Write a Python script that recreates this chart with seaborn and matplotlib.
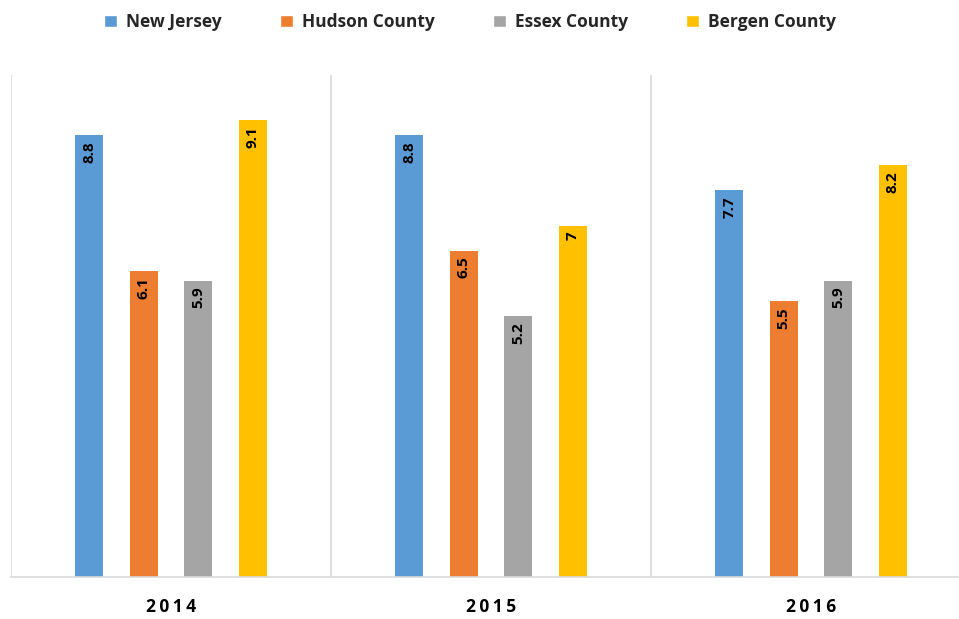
import matplotlib
matplotlib.use("Agg")
import matplotlib.pyplot as plt
import seaborn as sns
import pandas as pd

years = ["2014", "2015", "2016"]
series = ["New Jersey", "Hudson County", "Essex County", "Bergen County"]
new_jersey = [8.8, 8.8, 7.7]
hudson = [6.1, 6.5, 5.5]
essex = [5.9, 5.2, 5.9]
bergen = [9.1, 7.0, 8.2]
colors = ["#5B9BD5", "#ED7D31", "#A5A5A5", "#FFC000"]

rows = []
for name, vals in zip(series, [new_jersey, hudson, essex, bergen]):
    for y, v in zip(years, vals):
        rows.append({"Year": y, "Series": name, "Value": v})
df = pd.DataFrame(rows)

sns.set_theme(style="white")
plt.rcParams["font.family"] = ["Open Sans", "DejaVu Sans"]

fig = plt.figure(figsize=(9.59, 6.19), dpi=100)
ax = fig.add_axes([11 / 959, 42 / 619, 960 / 959, 502 / 619])

sns.barplot(data=df, x="Year", y="Value", hue="Series", hue_order=series,
            palette=colors, width=0.68, dodge=True, ax=ax, saturation=1,
            errorbar=None, legend=True)

bar_w = 0.0875
for p in ax.patches:
    if p.get_height() == 0 and p.get_width() == 0:
        continue
    c = p.get_x() + p.get_width() / 2
    p.set_x(c - bar_w / 2)
    p.set_width(bar_w)
    p.set_linewidth(0)

for cont in ax.containers:
    for rect in cont:
        h = rect.get_height()
        ax.text(rect.get_x() + rect.get_width() / 2, h - 0.12, f"{h:g}",
                rotation=90, ha="center", va="top", fontsize=11,
                fontweight="bold", color="black")

ax.set_ylim(0, 10)
ax.set_xlim(-0.5, 2.5)
for xv in [-0.5, 0.5, 1.5, 2.5]:
    ax.axvline(xv, color="#d9d9d9", lw=1.2, zorder=0)
for s in ["top", "right", "left"]:
    ax.spines[s].set_visible(False)
ax.spines["bottom"].set_color("#d9d9d9")
ax.spines["bottom"].set_linewidth(1.2)
ax.set_yticks([])
ax.set_xlabel("")
ax.set_ylabel("")
ax.tick_params(axis="x", length=0, pad=15)
ax.set_xticks(range(3))
ax.set_xticklabels(["2\u20090\u20091\u20094", "2\u20090\u20091\u20095", "2\u20090\u20091\u20096"],
                   fontsize=12.5, fontweight="bold", color="black")

handles, labels = ax.get_legend_handles_labels()
ax.get_legend().remove()
fig.legend(handles, labels, loc="upper center", bbox_to_anchor=(0.49, 1.004),
           ncol=4, frameon=False, prop={"weight": "bold", "size": 12.5},
           handlelength=0.75, handleheight=0.75, handletextpad=0.5,
           columnspacing=3.38)

fig.savefig("out.png", dpi=100)
